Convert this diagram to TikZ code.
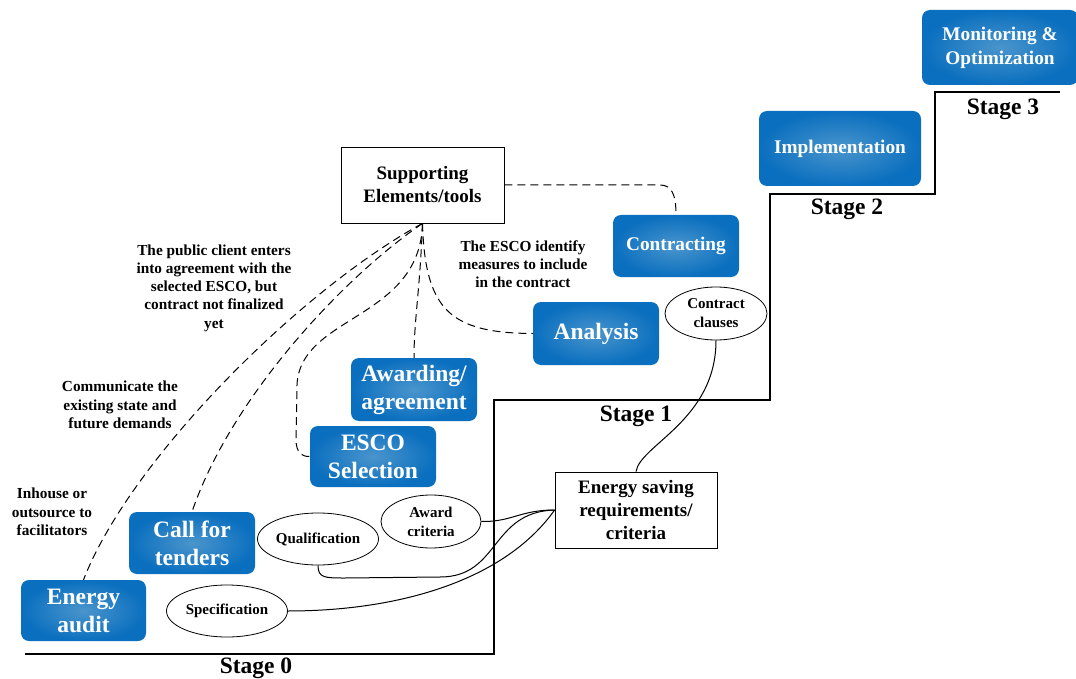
\documentclass[tikz,border=0pt]{standalone}
\usepackage{fontspec}
\setmainfont{Liberation Serif}
\usetikzlibrary{shapes.geometric}
\definecolor{boxblue}{HTML}{0A6FBF}
\definecolor{boxglow}{HTML}{4A95CC}
\tikzset{
  bluebox/.style={rounded corners=8pt, shading=radial, inner color=boxglow, outer color=boxblue,
    text=white, font=\bfseries\fontsize{23.5}{28}\selectfont, align=center, inner sep=0pt},
  smallblue/.style={bluebox, font=\bfseries\fontsize{19.3}{24}\selectfont},
  whitebox/.style={draw=black, line width=0.8pt, fill=white, align=center, inner sep=0pt,
    font=\bfseries\fontsize{19}{23}\selectfont},
  oval/.style={draw=black, line width=0.8pt, ellipse, inner sep=0pt, align=center,
    font=\bfseries\fontsize{15}{19}\selectfont},
  lbl/.style={align=center, font=\bfseries\fontsize{15.3}{18.3}\selectfont, inner sep=0pt},
  stagelbl/.style={font=\bfseries\fontsize{23.5}{26}\selectfont, inner sep=0pt},
  dline/.style={draw=black, line width=1pt, dash pattern=on 8pt off 5pt},
  sline/.style={draw=black, line width=1pt},
  stair/.style={draw=black, line width=1.5pt}
}
\begin{document}
\begin{tikzpicture}[x=1pt,y=-1pt]
\useasboundingbox (0,0) rectangle (1076,679);
% stairs
\coordinate (s0) at (25,654);
\coordinate (s1) at (494,654);
\coordinate (s2) at (494,400);
\coordinate (s3) at (770,400);
\coordinate (s4) at (770,194);
\coordinate (s5) at (935,194);
\coordinate (s6) at (935,92);
\coordinate (s7) at (1060,92);
\draw[stair] (s0) -- (s1) -- (s2) -- (s3) -- (s4) -- (s5) -- (s6) -- (s7);
\node[stagelbl] (st0) at (256,668) {Stage 0};
\node[stagelbl] (st1) at (636,416) {Stage 1};
\node[stagelbl] (st2) at (847,209) {Stage 2};
\node[stagelbl] (st3) at (1003,109) {Stage 3};

% blue boxes
\node[bluebox, minimum width=125pt, minimum height=61pt] (audit) at (83.5,610.5) {Energy\\audit};
\node[bluebox, minimum width=126pt, minimum height=62pt] (cft) at (192,543) {Call for\\tenders};
\node[bluebox, minimum width=126pt, minimum height=61pt] (esco) at (373,456.5) {ESCO\\Selection};
\node[bluebox, minimum width=126pt, minimum height=63pt] (award) at (414,389.5) {Awarding/\\agreement};
\node[bluebox, minimum width=126pt, minimum height=63pt] (analysis) at (596,333.5) {Analysis};
\node[bluebox, minimum width=126pt, minimum height=62pt, font=\bfseries\fontsize{19.3}{24}\selectfont] (contracting) at (676,246) {Contracting};
\node[smallblue, minimum width=162pt, minimum height=75pt] (impl) at (840,148.5) {Implementation};
\node[smallblue, minimum width=156pt, minimum height=75pt] (monitor) at (1000,47.5) {Monitoring \&\\Optimization};

% white boxes
\node[whitebox, minimum width=163pt, minimum height=76pt] (support) at (422.5,185) {Supporting\\Elements/tools};
\node[whitebox, minimum width=162pt, minimum height=76pt] (esr) at (636,510) {Energy saving\\requirements/\\criteria};

% ellipses
\node[oval, minimum width=121pt, minimum height=52pt] (qual) at (318,539) {Qualification};
\node[oval, minimum width=100pt, minimum height=53pt] (awcrit) at (431,521.5) {Award\\criteria};
\node[oval, minimum width=121pt, minimum height=52pt] (spec) at (227,611) {Specification};
\node[oval, minimum width=102pt, minimum height=53pt] (clauses) at (716,313.5) {Contract\\clauses};

% labels
\node[lbl] (l1) at (214,288) {The public client enters\\into agreement with the\\selected ESCO, but\\contract not finalized\\yet};
\node[lbl] (l2) at (120,405) {Communicate the\\existing state and\\future demands};
\node[lbl] (l3) at (52,512) {Inhouse or\\outsource to\\facilitators};
\node[lbl] (l4) at (523,264) {The ESCO identify\\measures to include\\in the contract};

% dashed connectors
\draw[dline] (support.south) .. controls (425,310) and (450,333) .. (analysis.west);
\draw[dline] (support.south) .. controls (420,290) and (414,320) .. (award.north);
\draw[dline] (support.south) .. controls (420,320) and (300,315) .. (297,385) -- (296,440) .. controls (296,452) and (302,457) .. (esco.west);
\draw[dline] (support.south) .. controls (340,280) and (230,400) .. (cft.north);
\draw[dline] (support.south) .. controls (300,290) and (130,460) .. (audit.north);
\draw[dline] (support.east) -- (660,185) .. controls (672,185) and (676,195) .. (contracting.north);

% solid connectors
\draw[sline] (awcrit.east) .. controls (512,522) and (520,510) .. (esr.west);
\draw[sline] (qual.south) .. controls (318,578) and (325,578) .. (345,578) -- (440,577) .. controls (500,577) and (490,512) .. (esr.west);
\draw[sline] (spec.east) .. controls (400,611) and (505,580) .. (esr.west);
\draw[sline] (clauses.south) .. controls (716,420) and (640,445) .. (esr.north);
\end{tikzpicture}
\end{document}
